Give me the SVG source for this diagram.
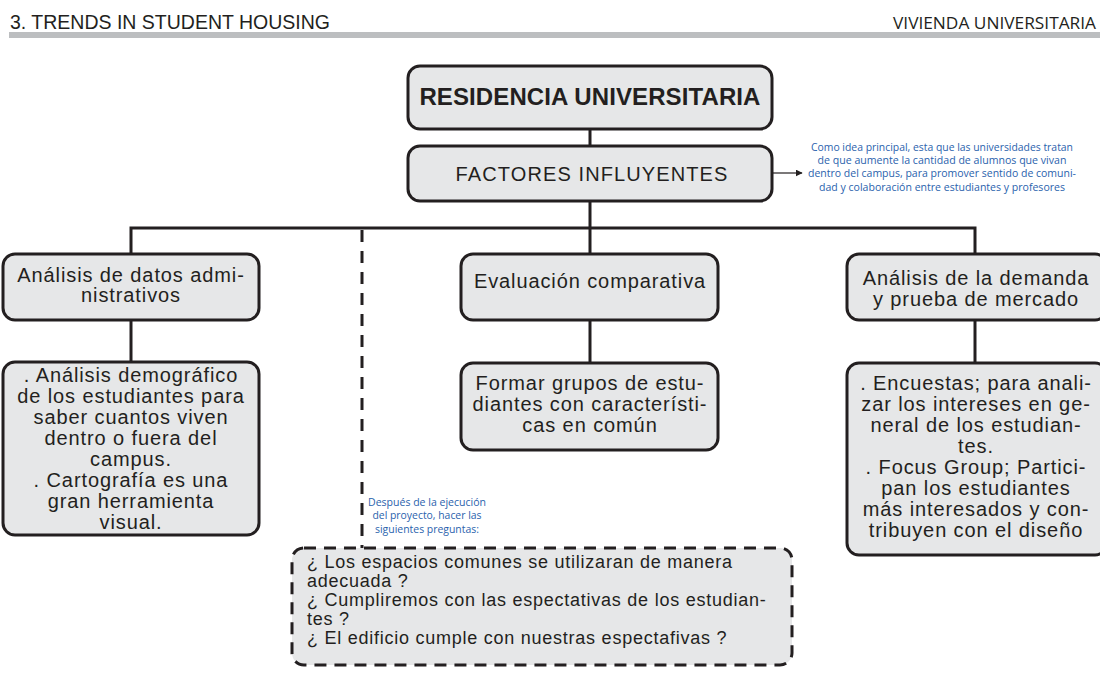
<svg xmlns="http://www.w3.org/2000/svg" width="1100" height="686" viewBox="0 0 1100 686">
  <defs>
    <marker id="arrow" viewBox="0 0 10 10" refX="9" refY="5" markerWidth="7" markerHeight="7" orient="auto" markerUnits="userSpaceOnUse">
      <path d="M0,0 L10,5 L0,10 z" fill="#231f20"/>
    </marker>
    <style>
      .box { fill: #e6e7e8; stroke: #231f20; stroke-width: 3; }
      .dbox { fill: #e6e7e8; stroke: #231f20; stroke-width: 3; stroke-dasharray: 12 8; }
      .line { stroke: #231f20; stroke-width: 3; fill: none; }
      .dline { stroke: #231f20; stroke-width: 3; fill: none; stroke-dasharray: 12 9; }
      .t { font-family: "Liberation Sans", Arial, sans-serif; fill: #231f20; font-size: 20px; letter-spacing: 0.9px; text-anchor: middle; }
      .title { font-size: 24px; font-weight: bold; letter-spacing: 0.1px; }
      .q { font-family: "Liberation Sans", Arial, sans-serif; fill: #231f20; font-size: 18px; letter-spacing: 0.75px; }
      .note { font-family: "Open Sans", "Noto Sans", sans-serif; fill: #2a62ad; font-size: 11px; text-anchor: middle; }
    </style>
  </defs>

  <!-- page header -->
  <g id="header">
    <text x="10" y="29" font-family="'Liberation Sans', Arial, sans-serif" font-size="21" fill="#231f20" textLength="320" lengthAdjust="spacingAndGlyphs">3. TRENDS IN STUDENT HOUSING</text>
    <text x="1096" y="29" font-family="'Open Sans', 'Noto Sans', sans-serif" font-size="17" fill="#231f20" text-anchor="end" textLength="203" lengthAdjust="spacingAndGlyphs">VIVIENDA UNIVERSITARIA</text>
    <rect x="9" y="32" width="1091" height="6" fill="#bcbec0"/>
  </g>

  <!-- connectors -->
  <g id="connectors">
    <line class="line" x1="590" y1="129" x2="590" y2="146"/>
    <line class="line" x1="590" y1="201" x2="590" y2="228"/>
    <polyline class="line" points="131,254 131,228 975,228 975,254"/>
    <line class="line" x1="590" y1="228" x2="590" y2="254"/>
    <line class="dline" x1="362" y1="230" x2="362" y2="548"/>
    <line class="line" x1="131" y1="320" x2="131" y2="362"/>
    <line class="line" x1="590" y1="320" x2="590" y2="363"/>
    <line class="line" x1="975" y1="320" x2="975" y2="363"/>
    <line x1="773" y1="173" x2="802" y2="173" stroke="#231f20" stroke-width="1.2" marker-end="url(#arrow)"/>
  </g>

  <g id="residencia">
    <rect class="box" x="408" y="66" width="364" height="63" rx="12"/>
    <text class="t title" x="590" y="105">RESIDENCIA UNIVERSITARIA</text>
  </g>

  <g id="factores">
    <rect class="box" x="408" y="146" width="364" height="55" rx="12"/>
    <text class="t" x="592" y="181" style="letter-spacing:1.1px">FACTORES INFLUYENTES</text>
  </g>

  <g id="nota-factores">
    <text class="note" x="942" y="151" textLength="262" lengthAdjust="spacingAndGlyphs">Como idea principal, esta que las universidades tratan</text>
    <text class="note" x="942" y="164" textLength="249" lengthAdjust="spacingAndGlyphs">de que aumente la cantidad de alumnos que vivan</text>
    <text class="note" x="942" y="177" textLength="268" lengthAdjust="spacingAndGlyphs">dentro del campus, para promover sentido de comuni-</text>
    <text class="note" x="942" y="191" textLength="246" lengthAdjust="spacingAndGlyphs">dad y colaboración entre estudiantes y profesores</text>
  </g>

  <g id="analisis-datos">
    <rect class="box" x="3" y="254" width="256" height="66" rx="12"/>
    <text class="t" x="131" y="282">Análisis de datos admi-</text>
    <text class="t" x="131" y="302">nistrativos</text>
  </g>

  <g id="analisis-demografico">
    <rect class="box" x="3" y="362" width="256" height="173" rx="12"/>
    <text class="t" x="131" y="382">. Análisis demográfico</text>
    <text class="t" x="131" y="403">de los estudiantes para</text>
    <text class="t" x="131" y="424">saber cuantos viven</text>
    <text class="t" x="131" y="445">dentro o fuera del</text>
    <text class="t" x="131" y="466">campus.</text>
    <text class="t" x="131" y="487">. Cartografía es una</text>
    <text class="t" x="131" y="508">gran herramienta</text>
    <text class="t" x="131" y="529">visual.</text>
  </g>

  <g id="evaluacion">
    <rect class="box" x="461" y="254" width="257" height="66" rx="12"/>
    <text class="t" x="590" y="288">Evaluación comparativa</text>
  </g>

  <g id="grupos">
    <rect class="box" x="461" y="363" width="257" height="87" rx="12"/>
    <text class="t" x="590" y="390">Formar grupos de estu-</text>
    <text class="t" x="590" y="411">diantes con característi-</text>
    <text class="t" x="590" y="432">cas en común</text>
  </g>

  <g id="demanda">
    <rect class="box" x="847" y="254" width="260" height="66" rx="12"/>
    <text class="t" x="976" y="285">Análisis de la demanda</text>
    <text class="t" x="976" y="306">y prueba de mercado</text>
  </g>

  <g id="encuestas">
    <rect class="box" x="847" y="363" width="260" height="192" rx="12"/>
    <text class="t" x="976" y="390">. Encuestas; para anali-</text>
    <text class="t" x="976" y="411">zar los intereses en ge-</text>
    <text class="t" x="976" y="432">neral de los estudian-</text>
    <text class="t" x="976" y="453">tes.</text>
    <text class="t" x="976" y="474">. Focus Group; Partici-</text>
    <text class="t" x="976" y="495">pan los estudiantes</text>
    <text class="t" x="976" y="516">más interesados y con-</text>
    <text class="t" x="976" y="537">tribuyen con el diseño</text>
  </g>

  <g id="nota-preguntas">
    <text class="note" x="427" y="506" textLength="118" lengthAdjust="spacingAndGlyphs">Después de la ejecución</text>
    <text class="note" x="427" y="519" textLength="109" lengthAdjust="spacingAndGlyphs">del proyecto, hacer las</text>
    <text class="note" x="427" y="533" textLength="104" lengthAdjust="spacingAndGlyphs">siguientes preguntas:</text>
  </g>

  <g id="preguntas">
    <rect class="dbox" x="292" y="548" width="500" height="117" rx="12"/>
    <text class="q" x="307" y="568">¿ Los espacios comunes se utilizaran de manera</text>
    <text class="q" x="307" y="587">adecuada ?</text>
    <text class="q" x="307" y="606">¿ Cumpliremos con las espectativas de los estudian-</text>
    <text class="q" x="307" y="625">tes ?</text>
    <text class="q" x="307" y="644">¿ El edificio cumple con nuestras espectafivas ?</text>
  </g>
</svg>
